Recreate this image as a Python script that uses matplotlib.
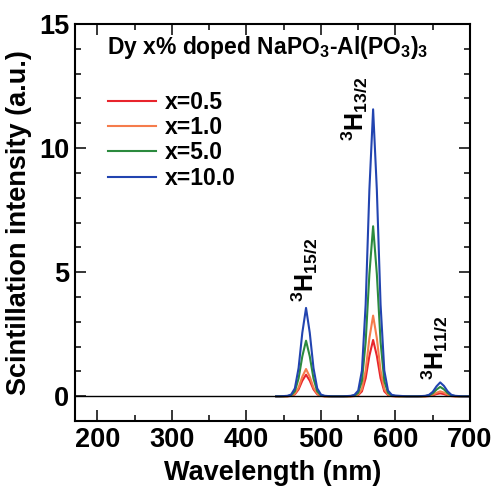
import matplotlib
matplotlib.use("Agg")
import matplotlib.pyplot as plt
from matplotlib.ticker import MultipleLocator

plt.rcParams["font.family"] = ["Liberation Sans", "DejaVu Sans"]
plt.rcParams["font.weight"] = "bold"
plt.rcParams["mathtext.fontset"] = "custom"
plt.rcParams["mathtext.rm"] = "Liberation Sans:bold"
plt.rcParams["mathtext.bf"] = "Liberation Sans:bold"
plt.rcParams["mathtext.it"] = "Liberation Sans:bold"
plt.rcParams["mathtext.default"] = "bf"

# Wavelength grid (nm)
wavelength = [440, 445, 450, 455, 460, 465, 470, 475, 480, 485, 490, 495, 500,
              505, 510, 515, 520, 525, 530, 535, 540, 545, 550, 555, 560, 565,
              570, 575, 580, 585, 590, 595, 600, 605, 610, 615, 620, 625, 630,
              635, 640, 645, 650, 655, 660, 665, 670, 675, 680, 685, 690, 695, 700]

# Scintillation intensity (a.u.) for each Dy concentration
int_x05 = [0, 0, 0, 0, 0.02, 0.08, 0.28, 0.63, 0.87, 0.63, 0.28, 0.08, 0.02,
           0, 0, 0, 0, 0, 0, 0, 0, 0.01, 0.05, 0.20, 0.73, 1.63,
           2.27, 1.63, 0.73, 0.20, 0.05, 0.01, 0, 0, 0, 0, 0, 0, 0,
           0, 0, 0.01, 0.04, 0.09, 0.12, 0.09, 0.04, 0.01, 0, 0, 0, 0, 0]
int_x10 = [0, 0, 0, 0, 0.02, 0.10, 0.35, 0.79, 1.10, 0.79, 0.35, 0.10, 0.02,
           0, 0, 0, 0, 0, 0, 0, 0, 0.02, 0.07, 0.29, 1.04, 2.34,
           3.25, 2.34, 1.04, 0.29, 0.07, 0.02, 0, 0, 0, 0, 0, 0, 0,
           0, 0, 0.02, 0.06, 0.14, 0.20, 0.15, 0.06, 0.02, 0, 0, 0, 0, 0]
int_x50 = [0, 0, 0, 0.01, 0.04, 0.20, 0.72, 1.61, 2.24, 1.61, 0.72, 0.20, 0.04,
           0.01, 0, 0, 0, 0, 0, 0, 0.01, 0.03, 0.14, 0.62, 2.19, 4.93,
           6.85, 4.93, 2.19, 0.62, 0.14, 0.03, 0.01, 0, 0, 0, 0, 0, 0,
           0, 0.01, 0.04, 0.12, 0.27, 0.38, 0.28, 0.13, 0.04, 0.01, 0, 0, 0, 0]
int_x100 = [0, 0, 0.01, 0.02, 0.07, 0.32, 1.14, 2.56, 3.56, 2.56, 1.14, 0.32, 0.07,
            0.02, 0.01, 0, 0, 0, 0, 0.01, 0.02, 0.06, 0.23, 1.04, 3.70, 8.32,
            11.56, 8.32, 3.70, 1.04, 0.23, 0.06, 0.03, 0.02, 0.01, 0, 0, 0, 0,
            0.01, 0.02, 0.06, 0.18, 0.40, 0.56, 0.42, 0.20, 0.06, 0.02, 0.01, 0, 0, 0]

labels = ["x=0.5", "x=1.0", "x=5.0", "x=10.0"]
colors = ["#e8242c", "#f57c4c", "#2b8a3e", "#2244b0"]
series = [int_x05, int_x10, int_x50, int_x100]

fig = plt.figure(figsize=(4.95, 4.88), dpi=100)
ax = fig.add_axes([0.1515, 0.137, 0.798, 0.814])

for vals, lab, col in zip(series, labels, colors):
    ax.plot(wavelength, vals, color=col, lw=1.5, label=lab)

ax.axhline(0, color="black", lw=1.0, zorder=5)

ax.set_xlim(170, 700)
ax.set_ylim(-1, 15)
ax.xaxis.set_major_locator(MultipleLocator(100))
ax.xaxis.set_minor_locator(MultipleLocator(50))
ax.yaxis.set_major_locator(MultipleLocator(5))
ax.yaxis.set_minor_locator(MultipleLocator(1))
ax.tick_params(which="both", direction="in", top=True, right=True, width=1.1,
               labelsize=19.5, pad=4)
ax.tick_params(which="major", length=8)
ax.tick_params(which="minor", length=4.5)
for sp in ax.spines.values():
    sp.set_linewidth(1.5)

ax.set_xlabel("Wavelength (nm)", fontsize=19.5, fontweight="bold", labelpad=5)
ax.set_ylabel("Scintillation intensity (a.u.)", fontsize=19.5, fontweight="bold", labelpad=5)

ax.text(0.081, 0.94, r"Dy x% doped NaPO$_3$-Al(PO$_3$)$_3$", transform=ax.transAxes,
        fontsize=16.5, fontweight="bold", va="center", ha="left")

ax.text(478, 3.8, r"$^3$H$_{15/2}$", rotation=90, fontsize=18, ha="center", va="bottom")
ax.text(545, 10.3, r"$^3$H$_{13/2}$", rotation=90, fontsize=18, ha="center", va="bottom")
ax.text(652, 0.65, r"$^3$H$_{11/2}$", rotation=90, fontsize=18, ha="center", va="bottom")

leg = ax.legend(loc="upper left", bbox_to_anchor=(0.06, 0.855), frameon=False,
                fontsize=16.5, handlelength=2.1, handletextpad=0.4,
                labelspacing=0.1, borderaxespad=0)

fig.savefig("out.png", dpi=100)
